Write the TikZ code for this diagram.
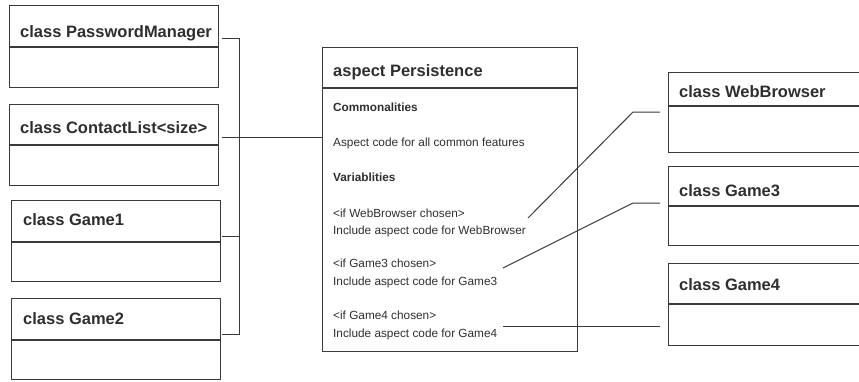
\documentclass[tikz,border=0pt]{standalone}
\usepackage{fontspec}
\setmainfont{Liberation Sans}
\definecolor{ink}{HTML}{2E2E2E}
\definecolor{edge}{HTML}{3A3A3A}
\begin{document}
\begin{tikzpicture}[x=1pt,y=-1pt,
  box/.style={draw=edge,line width=1.2pt,rectangle,inner sep=0pt,anchor=north west},
  ttl/.style={anchor=base west,inner sep=0pt,text=ink,font=\fontsize{16.5}{18}\selectfont\bfseries},
  txt/.style={anchor=base west,inner sep=0pt,text=ink,font=\fontsize{11.8}{14}\selectfont},
  btxt/.style={txt,font=\fontsize{11.8}{14}\selectfont\bfseries},
  conn/.style={draw=edge,line width=1pt}]
\useasboundingbox (0,0) rectangle (859,381);
\clip (0,0) rectangle (859,381);
% left class boxes
\node[box,minimum width=209pt,minimum height=82pt] (pm) at (9,5) {};
\draw[draw=edge,line width=1.2pt] (9,47) -- (218,47);
\node[ttl] (pmt) at (20,37) {class PasswordManager};
\node[box,minimum width=209pt,minimum height=81pt] (cl) at (9,104) {};
\draw[draw=edge,line width=1.2pt] (9,145) -- (218,145);
\node[ttl] (clt) at (20,133) {class ContactList<size>};
\node[box,minimum width=209pt,minimum height=81pt] (g1) at (11,200) {};
\draw[draw=edge,line width=1.2pt] (11,242) -- (220,242);
\node[ttl] (g1t) at (23,225) {class Game1};
\node[box,minimum width=209pt,minimum height=81pt] (g2) at (11,298) {};
\draw[draw=edge,line width=1.2pt] (11,340) -- (220,340);
\node[ttl] (g2t) at (23,324) {class Game2};
% aspect box
\node[box,minimum width=255pt,minimum height=304pt] (asp) at (322,47) {};
\draw[draw=edge,line width=1.2pt] (322,88) -- (577,88);
\node[ttl] (aspt) at (333,76) {aspect Persistence};
\node[btxt] (com) at (333,111) {Commonalities};
\node[txt] (acode) at (333,146) {Aspect code for all common features};
\node[btxt] (var) at (333,181) {Variablities};
\node[txt] (ifwb) at (333,217) {<if WebBrowser chosen>};
\node[txt] (incwb) at (333,234) {Include aspect code for WebBrowser};
\node[txt] (ifg3) at (333,267) {<if Game3 chosen>};
\node[txt] (incg3) at (333,285) {Include aspect code for Game3};
\node[txt] (ifg4) at (333,319) {<if Game4 chosen>};
\node[txt] (incg4) at (333,337) {Include aspect code for Game4};
% right class boxes (cut by the page edge)
\node[box,minimum width=210pt,minimum height=80pt] (wb) at (668,72) {};
\draw[draw=edge,line width=1.2pt] (668,106) -- (878,106);
\node[ttl] (wbt) at (679,97) {class WebBrowser};
\node[box,minimum width=210pt,minimum height=79pt] (g3) at (668,166) {};
\draw[draw=edge,line width=1.2pt] (668,206) -- (878,206);
\node[ttl] (g3t) at (679,196) {class Game3};
\node[box,minimum width=210pt,minimum height=82pt] (g4) at (668,263) {};
\draw[draw=edge,line width=1.2pt] (668,304) -- (878,304);
\node[ttl] (g4t) at (679,290) {class Game4};
% connector coordinates
\coordinate (pmo) at (222,38);
\coordinate (clo) at (222,137);
\coordinate (g1o) at (222,236);
\coordinate (g2o) at (222,334);
\coordinate (jtop) at (239,38);
\coordinate (jg1) at (239,236);
\coordinate (jbot) at (239,334);
\coordinate (wbs) at (528,218);
\coordinate (wbk) at (633,112);
\coordinate (wbe) at (660,112);
\coordinate (g3s) at (503,268);
\coordinate (g3k) at (633,203);
\coordinate (g3e) at (660,203);
\coordinate (g4s) at (503,326);
\coordinate (g4e) at (660,326);
% connectors
\draw[conn] (pmo) -- (jtop) -- (jbot) -- (g2o);
\draw[conn] (g1o) -- (jg1);
\draw[conn] (clo) -- (asp.west |- clo);
\draw[conn] (wbs) -- (wbk) -- (wbe);
\draw[conn] (g3s) -- (g3k) -- (g3e);
\draw[conn] (g4s) -- (g4e);
\end{tikzpicture}
\end{document}
